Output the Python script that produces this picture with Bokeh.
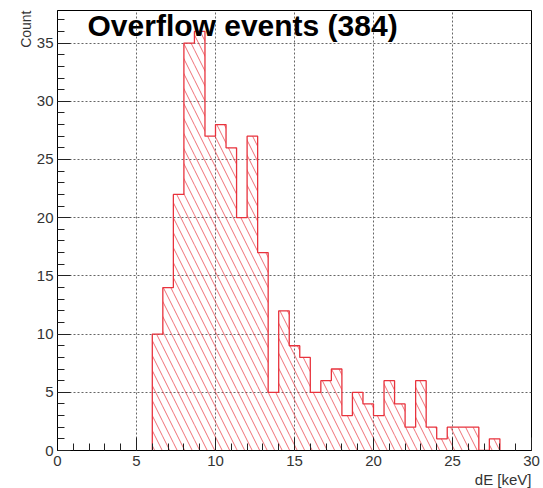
import math
import numpy as np
from bokeh.plotting import figure
from bokeh.models import Range1d, SingleIntervalTicker, Label, ColumnDataSource, Title
from bokeh.embed import file_html
from bokeh.resources import INLINE

# Histogram: 45 bins of dE over 0-30 keV
bin_edges_kev = np.linspace(0.0, 30.0, 46)
counts = [
    0, 0, 0, 0, 0, 0, 0, 0, 0,
    10, 14, 22, 35, 36, 27, 28, 26, 20, 27, 17, 5, 12, 9, 8, 5, 6, 7,
    3, 5, 4, 3, 6, 4, 2, 6, 2, 1, 2, 2, 2, 0, 1,
    0, 0, 0,
]
title_text = "Overflow events (384)"
x_title = "dE [keV]"
y_title = "Count"

FONT = "Liberation Sans"
RED = "#e8323c"

counts_arr = np.array(counts, dtype=float)
y_max = counts_arr.max() * 1.05

p = figure(
    width=543, height=488,
    x_range=Range1d(0, 30), y_range=Range1d(0, y_max),
    output_backend="svg", toolbar_location=None,
    min_border_left=57, min_border_right=12,
    min_border_top=10, min_border_bottom=38,
)
p.background_fill_color = "white"
p.border_fill_color = "white"
p.outline_line_color = "black"
p.outline_line_width = 1

# hatched bins
src = ColumnDataSource(dict(
    left=bin_edges_kev[:-1], right=bin_edges_kev[1:],
    top=counts_arr, bottom=np.zeros_like(counts_arr),
))
p.quad(left="left", right="right", top="top", bottom="bottom", source=src,
       fill_alpha=0, line_alpha=0,
       hatch_pattern="\\", hatch_color=RED, hatch_alpha=0.7,
       hatch_scale=15, hatch_weight=1)

# histogram contour as a step line
nz = np.nonzero(counts_arr)[0]
i0, i1 = nz[0], nz[-1] + 1
xs = [bin_edges_kev[i0]]
ys = [0.0]
for i in range(i0, i1):
    xs += [bin_edges_kev[i], bin_edges_kev[i + 1]]
    ys += [counts_arr[i], counts_arr[i]]
xs.append(bin_edges_kev[i1])
ys.append(0.0)
p.line(xs, ys, line_color=RED, line_width=1.3)

# axes in the ROOT manner: ticks pointing inward
for ax in (p.xaxis, p.yaxis):
    ax.ticker = SingleIntervalTicker(interval=5, num_minor_ticks=5)
    ax.major_tick_in = 13
    ax.major_tick_out = 0
    ax.minor_tick_in = 7
    ax.minor_tick_out = 0
    ax.axis_line_color = "black"
    ax.major_tick_line_color = "#222222"
    ax.minor_tick_line_color = "#222222"
    ax.major_label_text_font = FONT
    ax.major_label_text_font_size = "15px"
    ax.major_label_text_color = "#333333"
p.xaxis.major_label_standoff = 5
p.yaxis.major_label_standoff = 4

p.grid.grid_line_color = "#666666"
p.grid.grid_line_dash = "2 2"
p.grid.grid_line_width = 1
p.xgrid.ticker = SingleIntervalTicker(interval=5)
p.ygrid.ticker = SingleIntervalTicker(interval=5)

# title inside the frame
p.add_layout(Label(x=1.9, y=36.5, text=title_text, text_font=FONT,
                   text_font_size="30px", text_font_style="bold",
                   text_color="black", text_baseline="alphabetic",
                   text_align="left"))

# axis titles, right/top aligned
p.add_layout(Title(text=x_title, align="right", text_font=FONT,
                   text_font_size="15px", text_font_style="normal",
                   text_color="#333333", standoff=0, offset=0), "below")
p.add_layout(Title(text=y_title, align="right", text_font=FONT,
                   text_font_size="14px", text_font_style="normal",
                   text_color="#333333", standoff=0, offset=0), "left")

open("out.html", "w").write(file_html(p, INLINE))
